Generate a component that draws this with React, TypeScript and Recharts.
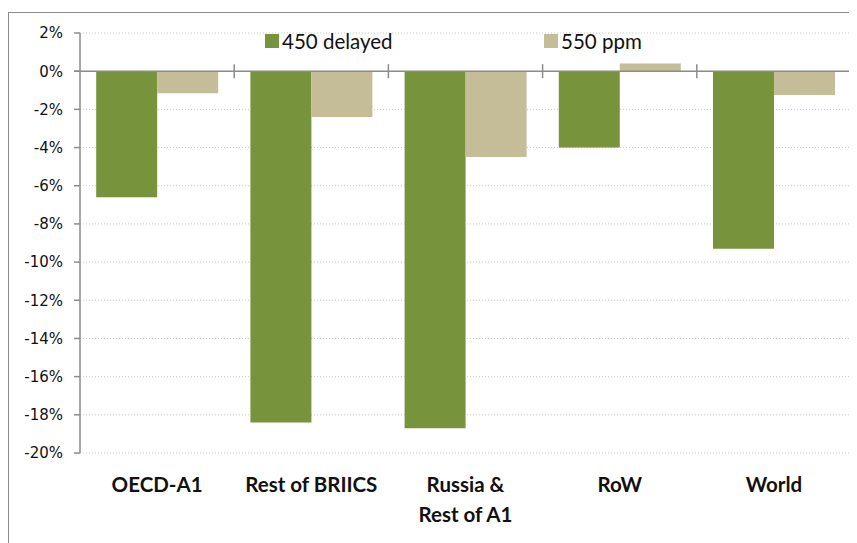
import React from 'react';
import { BarChart, Bar, XAxis, YAxis, CartesianGrid, Legend, ReferenceLine } from 'recharts';

const regions = ['OECD-A1', 'Rest of BRIICS', 'Russia &\nRest of A1', 'RoW', 'World'];
const delayed450 = [-6.6, -18.4, -18.7, -4.0, -9.3];
const ppm550 = [-1.15, -2.4, -4.5, 0.4, -1.25];
const yTicks = [-20, -18, -16, -14, -12, -10, -8, -6, -4, -2, 0, 2];

const GREEN = '#77933C';
const TAN = '#C4BD97';
const AXIS = '#8c8c8c';
const FONT = 'Lato, "Open Sans", sans-serif';

const data = regions.map((r, i) => ({ region: r, d450: delayed450[i], p550: ppm550[i] }));

// zero line with the category separator ticks drawn across it
const ZeroAxis = (props: any) => {
  const { x1, x2, y1 } = props;
  const n = regions.length;
  const step = (x2 - x1) / n;
  const marks = [];
  for (let i = 1; i <= n; i++) {
    const x = x1 + step * i;
    marks.push(<line key={i} x1={x} x2={x} y1={y1 - 7} y2={y1 + 7} stroke={AXIS} strokeWidth={1.5} />);
  }
  return (
    <g>
      <line x1={x1 - 6} x2={x2} y1={y1} y2={y1} stroke={AXIS} strokeWidth={1.5} />
      {marks}
    </g>
  );
};

const CatTick = (props: any) => {
  const { x, y, payload } = props;
  const lines = String(payload.value).split('\n');
  return (
    <text x={x} y={y + 31} textAnchor="middle" fontFamily={FONT} fontWeight="bold" fontSize={20.5} fill="#111">
      {lines.map((l, i) => (
        <tspan key={i} x={x} dy={i === 0 ? 0 : 30}>{l}</tspan>
      ))}
    </text>
  );
};

const LegendBox = () => (
  <div style={{ display: 'flex', fontFamily: FONT, fontSize: 20.5, color: '#111', lineHeight: '22px' }}>
    <div style={{ width: 279, display: 'flex', alignItems: 'center' }}>
      <span style={{ width: 14, height: 14, background: GREEN, marginRight: 3 }} />450 delayed
    </div>
    <div style={{ display: 'flex', alignItems: 'center' }}>
      <span style={{ width: 14, height: 14, background: TAN, marginRight: 3 }} />550 ppm
    </div>
  </div>
);

export default function App() {
  return (
    <div style={{ marginTop: 4, width: 860, height: 540, border: '1px solid #8c8c8c', background: '#fff' }}>
      <BarChart
        width={850}
        height={540}
        data={data}
        margin={{ top: 20, right: 8, left: 11, bottom: 35 }}
        barCategoryGap="10.5%"
        barGap={0}
      >
        <CartesianGrid vertical={false} stroke="#c8c8c8" strokeDasharray="1 2" />
        <XAxis
          dataKey="region"
          axisLine={false}
          tickLine={false}
          height={65}
          interval={0}
          tick={<CatTick />}
        />
        <YAxis
          domain={[-20, 2]}
          ticks={yTicks}
          width={60}
          tickFormatter={(v) => `${v}%`}
          tick={{ fontSize: 15, fill: '#111', fontFamily: '"DejaVu Sans", sans-serif' }}
          axisLine={{ stroke: AXIS, strokeWidth: 1.5 }}
          tickLine={{ stroke: AXIS, strokeWidth: 1.5 }}
          tickSize={6}
          tickMargin={11}
        />
        <Legend
          verticalAlign="middle"
          align="center"
          content={<LegendBox />}
          wrapperStyle={{ top: 17, left: 256, width: 500 }}
        />
        <Bar dataKey="d450" name="450 delayed" fill={GREEN} isAnimationActive={false} />
        <Bar dataKey="p550" name="550 ppm" fill={TAN} isAnimationActive={false} />
        <ReferenceLine y={0} shape={<ZeroAxis />} />
      </BarChart>
    </div>
  );
}
